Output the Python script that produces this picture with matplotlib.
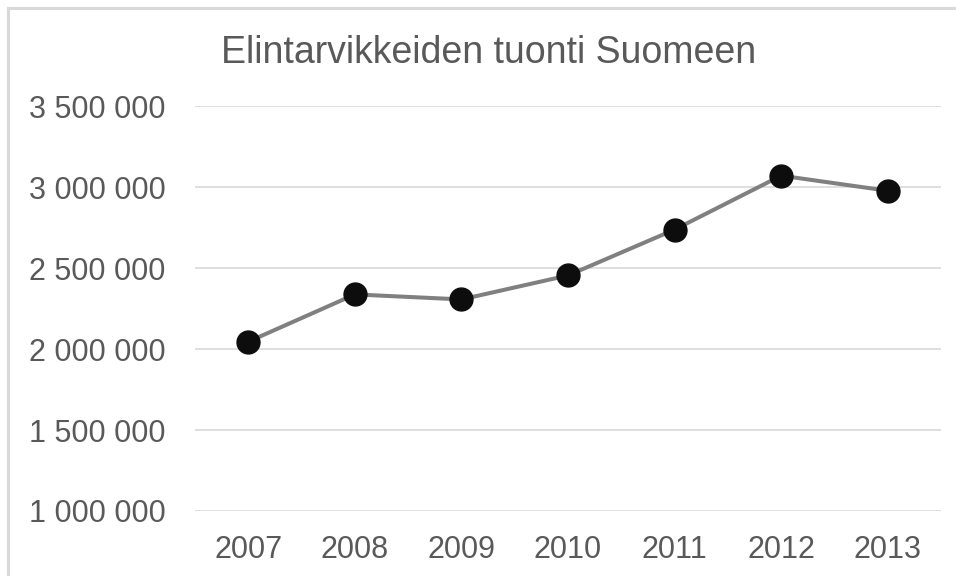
import matplotlib

matplotlib.use("Agg")
import matplotlib.pyplot as plt
from matplotlib.patches import Rectangle
from matplotlib.ticker import FuncFormatter, MultipleLocator

# ==========================================
# Data
# ==========================================
years = ["2007", "2008", "2009", "2010", "2011", "2012", "2013"]
imports = [2045000, 2337000, 2306000, 2454000, 2737000, 3070000, 2977000]
title = "Elintarvikkeiden tuonti Suomeen"

TEXT_COLOR = "#595959"
GRID_COLOR = "#d9d9d9"

plt.rcParams["font.family"] = ["Liberation Sans", "DejaVu Sans"]

fig = plt.figure(figsize=(9.56, 5.76), dpi=100)
ax = fig.add_axes([195 / 956, 65 / 576, (941 - 195) / 956, (511 - 106) / 576])

# light frame around the chart area (only left/top edges visible in the crop)
fig.patches.append(Rectangle((8 / 956, -0.1), 1.2, 1.1 - 8 / 576,
                             transform=fig.transFigure, fill=False,
                             edgecolor="#d9d9d9", linewidth=2.2))

x = range(len(years))
ax.plot(x, imports, color="#808080", linewidth=2.9, zorder=3)
ax.plot(x, imports, linestyle="none", marker="o", markersize=16.5,
        color="#0d0d0d", zorder=4)

ax.set_xlim(-0.5, len(years) - 0.5)
ax.set_ylim(1000000, 3500000)
ax.yaxis.set_major_locator(MultipleLocator(500000))
ax.yaxis.set_major_formatter(FuncFormatter(lambda v, _: f"{v:,.0f}".replace(",", " ")))
ax.set_xticks(list(x))
ax.set_xticklabels(years)

ax.grid(axis="y", color=GRID_COLOR, linewidth=1.2)
ax.set_axisbelow(True)
for side in ["top", "right", "left", "bottom"]:
    ax.spines[side].set_visible(False)
ax.tick_params(axis="both", length=0, labelsize=22, labelcolor=TEXT_COLOR)
ax.tick_params(axis="y", pad=21)
ax.tick_params(axis="x", pad=17)

fig.text(489 / 956, 1 - 63 / 576, title, ha="center", va="baseline",
         fontsize=27, color=TEXT_COLOR)

fig.savefig("out.png", dpi=100, facecolor="white")
plt.close(fig)
